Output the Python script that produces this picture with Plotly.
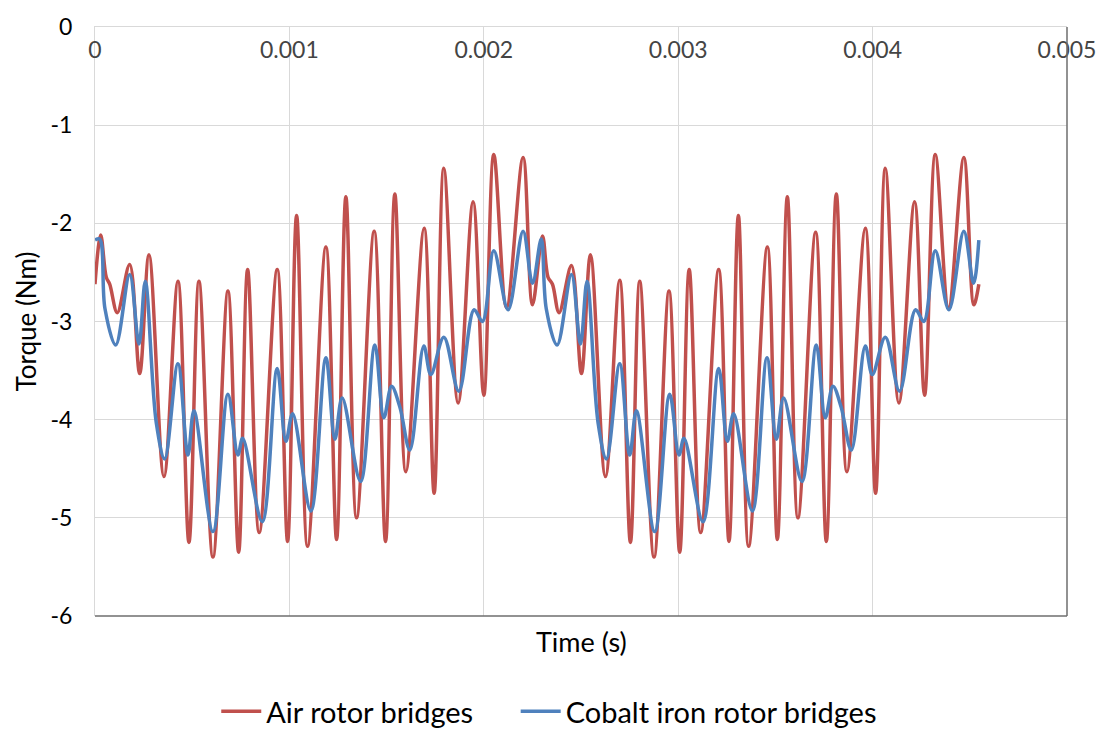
import plotly.graph_objects as go

# ---- data ----
air_t = [0.0, 0.0000293, 0.0000581, 0.0000756, 0.0001147, 0.0001784, 0.0002298, 0.0002776,
         0.0003548, 0.0004267, 0.0004833, 0.0005347, 0.0006067, 0.0006838, 0.0007388, 0.0007851,
         0.0008447, 0.0009373, 0.0009907, 0.001037, 0.0010935, 0.0011877, 0.0012427, 0.0012905,
         0.0013455, 0.001436, 0.0014946, 0.0015424, 0.001599, 0.001693, 0.0017445, 0.0017943,
         0.0018679, 0.001945, 0.0020, 0.0020514, 0.0021167, 0.0022021, 0.0022504,
         0.0023018, 0.0023306, 0.0023532, 0.0023872, 0.0024509, 0.0025023, 0.0025486, 0.0026257,
         0.0026992, 0.0027542, 0.0028021, 0.0028756, 0.0029527, 0.0030077, 0.0030566, 0.0031157,
         0.0032082, 0.0032612, 0.0033095, 0.0033625, 0.0034586, 0.00351, 0.0035614, 0.0036159,
         0.003707, 0.003762, 0.0038134, 0.0038679, 0.0039625, 0.0040154, 0.0040653, 0.0041352,
         0.004216, 0.0042674, 0.0043224, 0.0043907, 0.0044694, 0.0045208, 0.0045465]
air_torque = [-2.62, -2.12, -2.55, -2.62, -2.91, -2.42, -3.53, -2.32,
              -4.58, -2.59, -5.25, -2.59, -5.40, -2.69, -5.35, -2.47,
              -5.15, -2.47, -5.24, -1.92, -5.29, -2.24, -5.22, -1.73,
              -5.00, -2.08, -5.24, -1.70, -4.53, -2.05, -4.75, -1.44,
              -3.83, -1.78, -3.75, -1.30, -2.86, -1.33, -2.83,
              -2.13, -2.55, -2.62, -2.91, -2.43, -3.53, -2.32, -4.58,
              -2.58, -5.25, -2.59, -5.40, -2.69, -5.35, -2.47, -5.15,
              -2.47, -5.24, -1.92, -5.29, -2.24, -5.22, -1.73, -5.00,
              -2.09, -5.24, -1.70, -4.53, -2.05, -4.75, -1.44, -3.83,
              -1.78, -3.75, -1.30, -2.86, -1.33, -2.83, -2.62]

cobalt_t = [0.0, 0.0000242, 0.0000514, 0.0001064, 0.0001784, 0.0002262, 0.0002586, 0.0003152,
            0.0003584, 0.0004267, 0.0004781, 0.000509, 0.0006067, 0.0006838, 0.0007352, 0.0007594,
            0.0008602, 0.0009373, 0.000982, 0.0010165, 0.0011105, 0.0011877, 0.0012339, 0.0012715,
            0.0013661, 0.0014396, 0.0014859, 0.0015254, 0.0015681, 0.0016195, 0.0016915, 0.0017275,
            0.0017943, 0.0018715, 0.0019501, 0.0019933, 0.0020514, 0.002125, 0.0022021, 0.0022504,
            0.0022956, 0.0023213, 0.0023769, 0.0024509, 0.0024972, 0.0025311, 0.0025877, 0.0026308,
            0.0026992, 0.0027506, 0.0027851, 0.0028792, 0.0029563, 0.0030041, 0.0030298, 0.0031275,
            0.0032082, 0.0032529, 0.0032853, 0.0033815, 0.0034566, 0.0035049, 0.0035424, 0.0036365,
            0.0037105, 0.0037568, 0.0037959, 0.003838, 0.0038905, 0.0039625, 0.0039985, 0.0040653,
            0.0041388, 0.0042211, 0.0042637, 0.0043224, 0.0043923, 0.0044694, 0.0045193, 0.0045465]
cobalt_torque = [-2.17, -2.16, -2.87, -3.24, -2.52, -3.23, -2.59, -4.03,
                 -4.40, -3.43, -4.36, -3.91, -5.14, -3.74, -4.36, -4.19,
                 -5.04, -3.48, -4.22, -3.94, -4.93, -3.37, -4.20, -3.78,
                 -4.63, -3.24, -3.98, -3.66, -3.87, -4.31, -3.25, -3.54,
                 -3.16, -3.71, -2.88, -3.00, -2.28, -2.88, -2.08, -2.61,
                 -2.16, -2.87, -3.24, -2.52, -3.23, -2.59, -4.03, -4.40,
                 -3.43, -4.36, -3.91, -5.14, -3.74, -4.36, -4.19, -5.04,
                 -3.48, -4.22, -3.94, -4.93, -3.37, -4.20, -3.78, -4.63,
                 -3.24, -3.98, -3.66, -3.87, -4.31, -3.25, -3.54, -3.16,
                 -3.71, -2.88, -3.00, -2.28, -2.88, -2.08, -2.61, -2.17]

x_tick_vals = [0, 0.001, 0.002, 0.003, 0.004, 0.005]
x_tick_text = ["0", "0.001", "0.002", "0.003", "0.004", "0.005"]
y_tick_vals = [-6, -5, -4, -3, -2, -1, 0]
y_tick_text = ["-6", "-5", "-4", "-3", "-2", "-1", "0"]

FONT = "Lato, 'Open Sans', sans-serif"
RED = "#C0504D"
BLUE = "#4F81BD"

fig = go.Figure()
fig.add_trace(go.Scatter(x=air_t, y=air_torque, mode="lines", name="Air rotor bridges",
                         legend="legend",
                         line=dict(color=RED, width=3.5, shape="spline", smoothing=1.0)))
fig.add_trace(go.Scatter(x=cobalt_t, y=cobalt_torque, mode="lines", name="Cobalt iron rotor bridges",
                         legend="legend2",
                         line=dict(color=BLUE, width=3.5, shape="spline", smoothing=1.0)))

legend_common = dict(orientation="h", xref="container", yref="container", xanchor="left",
                     y=0.024, yanchor="middle", font=dict(size=29), itemwidth=40,
                     bgcolor="rgba(0,0,0,0)")

fig.update_layout(
    width=1109, height=729,
    margin=dict(l=95, r=42, t=20, b=113),
    plot_bgcolor="white", paper_bgcolor="white",
    font=dict(family=FONT, size=23, color="#000000"),
    showlegend=True,
    legend=dict(x=0.195, **legend_common),
    legend2=dict(x=0.465, **legend_common),
    xaxis=dict(range=[0, 0.005], side="top", tickvals=x_tick_vals, ticktext=x_tick_text,
               ticklabelposition="inside", ticklabelstandoff=17, ticklabeloverflow="allow",
               showgrid=True, gridcolor="#D9D9D9", gridwidth=1,
               showline=True, linecolor="#D9D9D9", linewidth=1,
               zeroline=False, ticks="", tickfont=dict(size=23)),
    yaxis=dict(range=[-6, 0], tickvals=y_tick_vals, ticktext=y_tick_text,
               ticklabeloverflow="allow",
               showgrid=True, gridcolor="#D9D9D9", gridwidth=1,
               showline=True, linecolor="#D9D9D9", linewidth=1,
               zeroline=False, ticks="", tickfont=dict(size=23), ticklabelstandoff=17,
               title=dict(text="Torque (Nm)", font=dict(size=26), standoff=6)),
    shapes=[
        dict(type="line", xref="paper", yref="paper", x0=0, x1=1, y0=0, y1=0,
             line=dict(color="#6E6E6E", width=1.5)),
        dict(type="line", xref="paper", yref="paper", x0=1, x1=1, y0=0, y1=1,
             line=dict(color="#6E6E6E", width=1.5)),
    ],
    annotations=[
        dict(text="Time (s)", xref="paper", yref="paper", x=0.5, y=0, yanchor="top",
             yshift=-7, showarrow=False, font=dict(size=27)),
    ],
)

fig.write_html("out.html")
